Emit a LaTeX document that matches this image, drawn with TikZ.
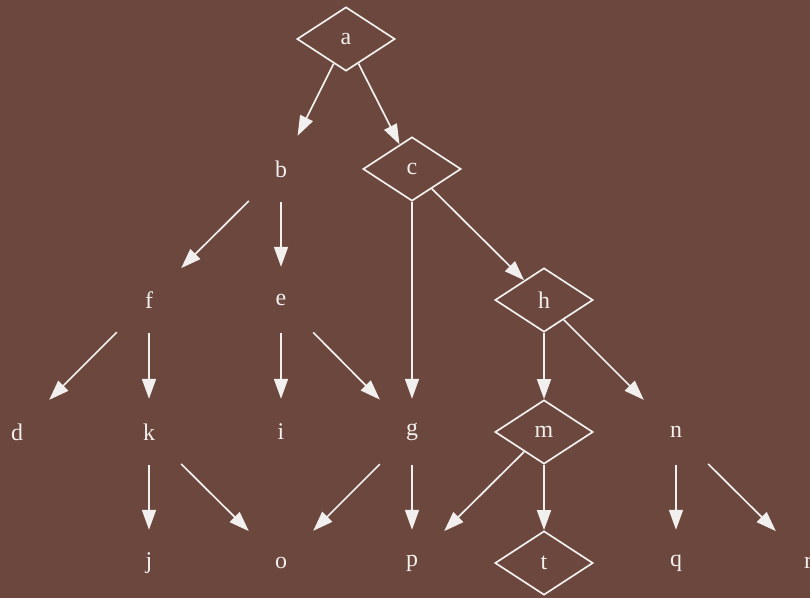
\documentclass[tikz,border=0pt]{standalone}
\usepackage{fontspec}
\setmainfont{Liberation Serif}
\usetikzlibrary{shapes.geometric,arrows.meta}
\definecolor{bgbrown}{HTML}{6C473D}
\definecolor{inkwhite}{HTML}{F2F0EE}
\begin{document}
\begin{tikzpicture}[x=1bp,y=-1bp,
  every node/.style={text=inkwhite,font=\fontsize{24}{26}\selectfont},
  plain/.style={rectangle,inner sep=0pt,minimum width=64bp,minimum height=66bp},
  dia/.style={diamond,draw=inkwhite,line width=1.7bp,inner sep=0pt,
    minimum width=98bp,minimum height=64bp,aspect=1.53},
  edge/.style={draw=inkwhite,line width=1.7bp,
    -{Triangle[length=20bp,width=14bp]}}]
\fill[bgbrown] (0,0) rectangle (810,598);
\useasboundingbox (0,0) rectangle (810,598);
% rank 0
\node[dia] (a) at (346,39) {a};
% rank 1
\node[plain] (b) at (281,169) {b};
\node[dia] (c) at (412,169) {c};
% rank 2
\node[plain] (f) at (149,300) {f};
\node[plain] (e) at (281,300) {e};
\node[dia] (h) at (544,300) {h};
% rank 3
\node[plain] (d) at (17,432) {d};
\node[plain] (k) at (149,432) {k};
\node[plain] (i) at (281,432) {i};
\node[plain] (g) at (412,432) {g};
\node[dia] (m) at (544,432) {m};
\node[plain] (n) at (676,432) {n};
% rank 4
\node[plain] (j) at (149,563) {j};
\node[plain] (o) at (281,563) {o};
\node[plain] (p) at (412,563) {p};
\node[dia] (t) at (544,563) {t};
\node[plain] (q) at (676,563) {q};
\node[plain] (r) at (808,563) {r};
% edges
\draw[edge] (a) -- (b);
\draw[edge] (a) -- (c);
\draw[edge] (b) -- (f);
\draw[edge] (b) -- (e);
\draw[edge] (c) -- (g);
\draw[edge] (c) -- (h);
\draw[edge] (f) -- (d);
\draw[edge] (f) -- (k);
\draw[edge] (e) -- (i);
\draw[edge] (e) -- (g);
\draw[edge] (h) -- (m);
\draw[edge] (h) -- (n);
\draw[edge] (k) -- (j);
\draw[edge] (k) -- (o);
\draw[edge] (g) -- (o);
\draw[edge] (g) -- (p);
\draw[edge] (m) -- (p);
\draw[edge] (m) -- (t);
\draw[edge] (n) -- (q);
\draw[edge] (n) -- (r);
\end{tikzpicture}
\end{document}
